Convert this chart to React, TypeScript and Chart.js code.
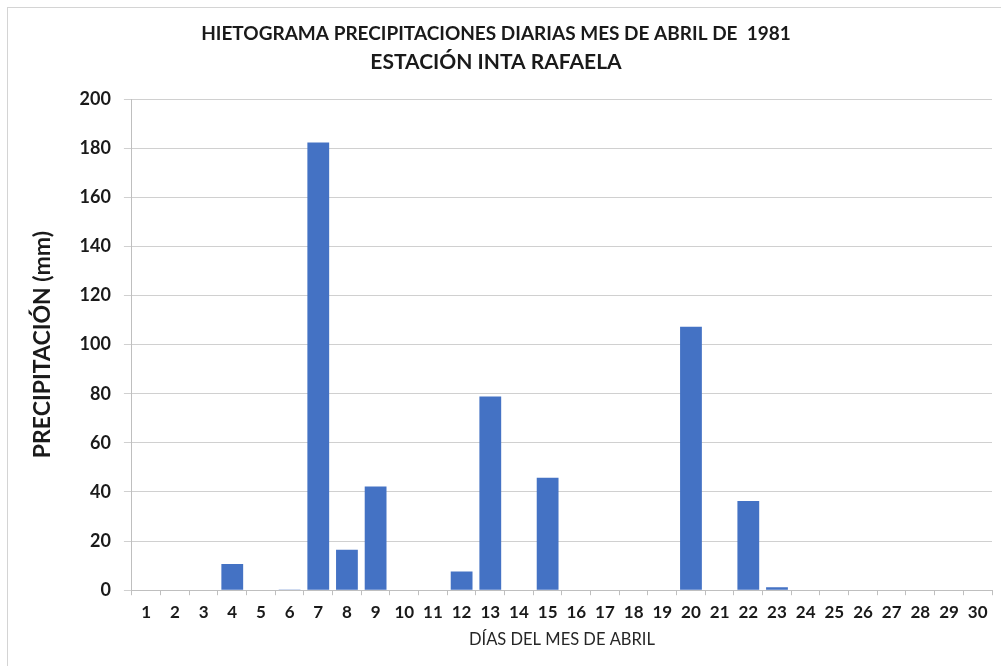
import React, { useEffect, useRef } from "react";
import { Chart, registerables } from "chart.js";

Chart.register(...registerables);

const days: string[] = [
  "1", "2", "3", "4", "5", "6", "7", "8", "9", "10",
  "11", "12", "13", "14", "15", "16", "17", "18", "19", "20",
  "21", "22", "23", "24", "25", "26", "27", "28", "29", "30",
];

const precipitation: number[] = [
  0, 0, 0, 10.7, 0, 0.3, 182.3, 16.5, 42.2, 0,
  0, 7.6, 78.9, 0, 45.8, 0, 0, 0, 0, 107.3,
  0, 36.3, 1.2, 0, 0, 0, 0, 0, 0, 0,
];

const titleLine1 = "HIETOGRAMA PRECIPITACIONES DIARIAS MES DE ABRIL DE  1981";
const titleLine2 = "ESTACIÓN INTA RAFAELA";
const xTitle = "DÍAS DEL MES DE ABRIL";
const yTitle = "PRECIPITACIÓN (mm)";

const FONT = "Lato, 'Open Sans', sans-serif";
const TEXT = "#1a1a1a";

export default function App() {
  const canvasRef = useRef<HTMLCanvasElement | null>(null);

  useEffect(() => {
    if (!canvasRef.current) return;
    const chart = new Chart(canvasRef.current, {
      type: "bar",
      data: {
        labels: days,
        datasets: [
          {
            data: precipitation,
            backgroundColor: "#4472C4",
            borderWidth: 0,
            barPercentage: 0.76,
            categoryPercentage: 1,
          },
        ],
      },
      options: {
        animation: false,
        responsive: false,
        maintainAspectRatio: false,
        layout: { padding: { left: 0, right: 9, top: 0, bottom: 16 } },
        plugins: {
          legend: { display: false },
          tooltip: { enabled: false },
          title: {
            display: true,
            text: titleLine1,
            color: TEXT,
            font: { family: FONT, size: 19, weight: "bold" },
            padding: { top: 22, bottom: 0 },
          },
          subtitle: {
            display: true,
            text: titleLine2,
            color: TEXT,
            font: { family: FONT, size: 21, weight: "bold" },
            padding: { top: 5, bottom: 24 },
          },
        },
        scales: {
          x: {
            offset: true,
            grid: {
              offset: true,
              drawOnChartArea: false,
              drawTicks: true,
              tickLength: 5,
              color: "#bfbfbf",
            },
            border: { display: true, color: "#bfbfbf", width: 1 },
            ticks: {
              color: TEXT,
              padding: 9,
              maxRotation: 0,
              autoSkip: false,
              font: { family: FONT, size: 17, weight: "bold", lineHeight: 1.0 },
            },
            title: {
              display: true,
              text: xTitle,
              color: "#262626",
              font: { family: FONT, size: 16.5, weight: "normal" },
              padding: { top: 0, bottom: 0 },
            },
          },
          y: {
            min: 0,
            max: 200,
            grid: {
              color: "#d0d0d0",
              tickLength: 8,
              lineWidth: 1,
            },
            border: { display: true, color: "#bfbfbf", width: 1 },
            ticks: {
              stepSize: 20,
              color: TEXT,
              padding: 13,
              font: { family: FONT, size: 18, weight: "bold" },
            },
            title: {
              display: true,
              text: yTitle,
              color: TEXT,
              font: { family: FONT, size: 23, weight: "bold" },
              padding: { top: 29, bottom: 10 },
            },
          },
        },
      },
    });
    return () => chart.destroy();
  }, []);

  return (
    <div
      style={{
        position: "fixed",
        left: 0,
        top: 0,
        width: 1001,
        height: 666,
        background: "#ffffff",
        overflow: "hidden",
      }}
    >
      <div
        style={{
          position: "absolute",
          left: 7,
          top: 7,
          width: 1010,
          height: 680,
          border: "1px solid #d4d4d4",
          boxSizing: "border-box",
        }}
      />
      <canvas
        ref={canvasRef}
        width={1001}
        height={666}
        style={{ position: "absolute", left: 0, top: 0, width: 1001, height: 666 }}
      />
    </div>
  );
}
